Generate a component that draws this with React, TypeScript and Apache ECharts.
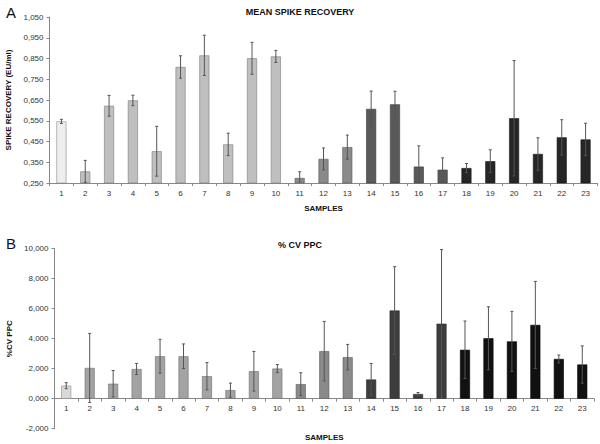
import React, { useEffect, useRef } from 'react';
import * as echarts from 'echarts';

const samples = ['1','2','3','4','5','6','7','8','9','10','11','12','13','14','15','16','17','18','19','20','21','22','23'];
const recoveryMean = [0.547,0.306,0.622,0.648,0.403,0.809,0.865,0.436,0.851,0.860,0.274,0.366,0.423,0.607,0.629,0.329,0.314,0.322,0.355,0.562,0.390,0.470,0.460];
const recoveryErr = [0.010,0.053,0.050,0.025,0.120,0.054,0.097,0.054,0.077,0.029,0.030,0.053,0.058,0.086,0.063,0.100,0.057,0.022,0.055,0.278,0.078,0.085,0.078];
const cvMean = [0.87,2.05,1.00,1.98,2.83,2.83,1.50,0.57,1.83,2.01,0.97,3.17,2.77,1.28,5.88,0.31,5.00,3.26,4.03,3.82,4.92,2.65,2.28];
const cvErr = [0.20,2.30,0.88,0.37,1.13,0.82,0.91,0.47,1.32,0.27,0.76,1.98,0.85,1.07,2.92,0.10,4.94,1.92,2.10,2.00,2.90,0.26,1.24];
const groupOf = [0,1,1,1,1,1,1,1,1,1,2,2,2,3,3,3,3,4,4,4,4,4,4];
const colorsA = ['#eeeeee','#bfbfbf','#8a8a8a','#5a5a5a','#262626'];
const colorsB = ['#d9d9d9','#a3a3a3','#8a8a8a','#3d3d3d','#111111'];
const bordersA = ['#8c8c8c','#7a7a7a','#5c5c5c','#3a3a3a','#1a1a1a'];
const bordersB = ['#8c8c8c','#6e6e6e','#5c5c5c','#2a2a2a','#000000'];

const FONT = 'Liberation Sans, Arial, sans-serif';
const fmt = (v: number) => v.toFixed(3).replace('.', ',');

function errRender(params: any, api: any) {
  const x = api.value(0);
  const m = api.value(1);
  const e = api.value(2);
  const top = api.coord([x, m + e]);
  const bot = api.coord([x, m - e]);
  const cap = 1.5;
  const st = { stroke: '#555555', lineWidth: 1 };
  return {
    type: 'group',
    children: [
      { type: 'line', shape: { x1: top[0], y1: top[1], x2: bot[0], y2: bot[1] }, style: st },
      { type: 'line', shape: { x1: top[0] - cap, y1: top[1], x2: top[0] + cap, y2: top[1] }, style: st },
      { type: 'line', shape: { x1: bot[0] - cap, y1: bot[1], x2: bot[0] + cap, y2: bot[1] }, style: st },
    ],
  };
}

export default function App() {
  const ref = useRef<HTMLDivElement>(null);
  useEffect(() => {
    if (!ref.current) return;
    const chart = echarts.init(ref.current, undefined, { renderer: 'svg' });
    const axisLabelStyle = { fontFamily: FONT, fontSize: 8, color: '#333333' };
    const nameStyle = { fontFamily: FONT, fontSize: 8, fontWeight: 'bold' as const, color: '#111111' };
    const xAxisCommon = {
      type: 'category' as const,
      data: samples,
      position: 'bottom' as const,
      axisLine: { onZero: false, lineStyle: { color: '#888888', width: 1 } },
      axisTick: { show: true, alignWithLabel: false, length: 3, lineStyle: { color: '#888888' } },
      axisLabel: { ...axisLabelStyle, margin: 6 },
      name: 'SAMPLES',
      nameLocation: 'middle' as const,
      nameTextStyle: nameStyle,
      splitLine: { show: false },
    };
    const yAxisCommon = {
      type: 'value' as const,
      axisLine: { show: true, lineStyle: { color: '#888888', width: 1 } },
      axisTick: { show: true, length: 3, lineStyle: { color: '#888888' } },
      axisLabel: { ...axisLabelStyle, margin: 6, formatter: (v: number) => fmt(v) },
      splitLine: { show: false },
      nameLocation: 'middle' as const,
      nameRotate: 90,
      nameTextStyle: nameStyle,
    };
    chart.setOption({
      animation: false,
      backgroundColor: '#ffffff',
      title: [
        { text: 'MEAN SPIKE RECOVERY', left: 'center', top: 2, textStyle: { fontFamily: FONT, fontSize: 9, fontWeight: 'bold', color: '#111111' } },
        { text: '% CV PPC', left: 'center', top: 235, textStyle: { fontFamily: FONT, fontSize: 9, fontWeight: 'bold', color: '#111111' } },
        { text: 'A', left: 1, top: 0, textStyle: { fontFamily: FONT, fontSize: 15, fontWeight: 'normal', color: '#111111' } },
        { text: 'B', left: 1, top: 231, textStyle: { fontFamily: FONT, fontSize: 15, fontWeight: 'normal', color: '#111111' } },
      ],
      grid: [
        { left: 49.5, right: 2.5, top: 17, height: 166, outerBoundsMode: 'none', containLabel: false },
        { left: 54.5, right: 6, top: 248.7, height: 180, outerBoundsMode: 'none', containLabel: false },
      ],
      xAxis: [
        { ...xAxisCommon, gridIndex: 0, nameGap: 21 },
        { ...xAxisCommon, gridIndex: 1, offset: -30, nameGap: 35 },
      ],
      yAxis: [
        { ...yAxisCommon, gridIndex: 0, min: 0.25, max: 1.05, interval: 0.1, name: 'SPIKE RECOVERY (EU/ml)', nameGap: 36 },
        { ...yAxisCommon, gridIndex: 1, min: -2, max: 10, interval: 2, name: '%CV PPC', nameGap: 38 },
      ],
      series: [
        {
          type: 'bar', xAxisIndex: 0, yAxisIndex: 0, barWidth: 10, clip: true,
          data: recoveryMean.map((v, i) => ({ value: v, itemStyle: { color: colorsA[groupOf[i]], borderColor: bordersA[groupOf[i]], borderWidth: 0.6 } })),
        },
        {
          type: 'custom', xAxisIndex: 0, yAxisIndex: 0, clip: true,
          renderItem: errRender,
          encode: { x: 0, y: 1 },
          data: recoveryMean.map((v, i) => [i, v, recoveryErr[i]]),
          z: 5,
        },
        {
          type: 'bar', xAxisIndex: 1, yAxisIndex: 1, barWidth: 10,
          data: cvMean.map((v, i) => ({ value: v, itemStyle: { color: colorsB[groupOf[i]], borderColor: bordersB[groupOf[i]], borderWidth: 0.6 } })),
        },
        {
          type: 'custom', xAxisIndex: 1, yAxisIndex: 1,
          renderItem: errRender,
          encode: { x: 0, y: 1 },
          data: cvMean.map((v, i) => [i, v, cvErr[i]]),
          z: 5,
        },
      ],
    });
    return () => chart.dispose();
  }, []);
  return <div ref={ref} style={{ width: 600, height: 444, position: 'absolute', left: 0, top: 0 }} />;
}
